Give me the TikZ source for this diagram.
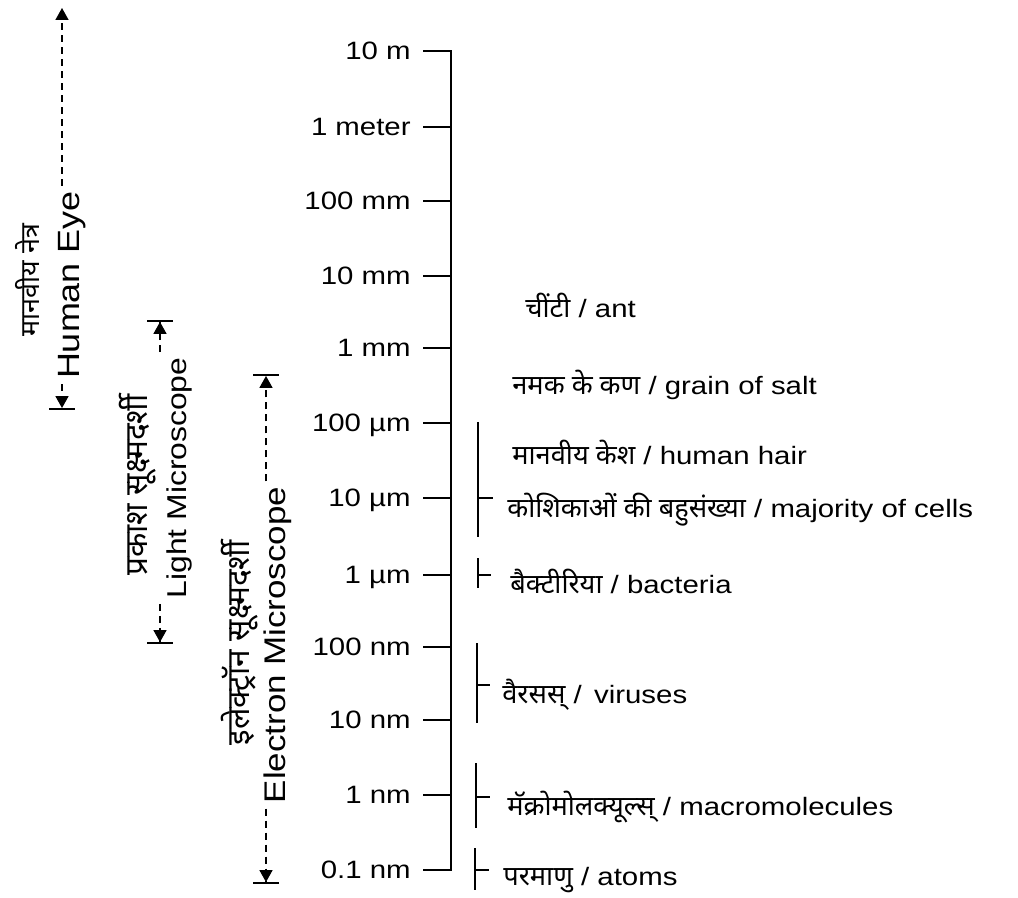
\documentclass[tikz,border=0pt]{standalone}
\usepackage{fontspec}
\setmainfont[FakeStretch=1.17]{Liberation Sans}
\newfontfamily\hindi[Script=Devanagari]{Noto Sans}
\usetikzlibrary{arrows.meta, positioning}

\begin{document}
\begin{tikzpicture}[
                x=0.02cm, y=-0.02cm,
                font=\fontsize{14.3}{17}\selectfont,
                axisline/.style={line width=1.1pt, line join=miter},
                scalelabel/.style={inner xsep=0.24cm, inner ysep=0pt, text height=10pt, text depth=0pt},
                itemlabel/.style={anchor=base west, inner sep=0pt},
                rangelabel/.style={rotate=90, inner sep=0.1cm},
                bracketline/.style={line width=0.9pt},
                rangeline/.style={line width=0.9pt, dash pattern=on 0.14cm off 0.1cm},
                tipup/.style={-{Triangle[length=0.24cm, width=0.26cm]}},
                tipbar/.style={-{Triangle[length=0.24cm, width=0.26cm] Bar[width=0.52cm, line width=1.1pt]}}
            ]
            \useasboundingbox (0,0) rectangle (1018,898);

            % Scale axis
            \coordinate (s1) at (451,51);
            \coordinate (s2) at (451,127);
            \coordinate (s3) at (451,201);
            \coordinate (s4) at (451,276);
            \coordinate (s5) at (451,348);
            \coordinate (s6) at (451,423);
            \coordinate (s7) at (451,498);
            \coordinate (s8) at (451,575);
            \coordinate (s9) at (451,647);
            \coordinate (s10) at (451,720);
            \coordinate (s11) at (451,795);
            \coordinate (s12) at (451,870);

            \node[scalelabel, left=0.56cm of s1] (l1) {10 m};
            \node[scalelabel, left=0.56cm of s2] (l2) {1 meter};
            \node[scalelabel, left=0.56cm of s3] (l3) {100 mm};
            \node[scalelabel, left=0.56cm of s4] (l4) {10 mm};
            \node[scalelabel, left=0.56cm of s5] (l5) {1 mm};
            \node[scalelabel, left=0.56cm of s6] (l6) {100 µm};
            \node[scalelabel, left=0.56cm of s7] (l7) {10 µm};
            \node[scalelabel, left=0.56cm of s8] (l8) {1 µm};
            \node[scalelabel, left=0.56cm of s9] (l9) {100 nm};
            \node[scalelabel, left=0.56cm of s10] (l10) {10 nm};
            \node[scalelabel, left=0.56cm of s11] (l11) {1 nm};
            \node[scalelabel, left=0.56cm of s12] (l12) {0.1 nm};

            \draw[axisline] (l1) -- (s1) -- (s12) -- (l12);
            \draw[axisline] (l2) -- (s2);
            \draw[axisline] (l3) -- (s3);
            \draw[axisline] (l4) -- (s4);
            \draw[axisline] (l5) -- (s5);
            \draw[axisline] (l6) -- (s6);
            \draw[axisline] (l7) -- (s7);
            \draw[axisline] (l8) -- (s8);
            \draw[axisline] (l9) -- (s9);
            \draw[axisline] (l10) -- (s10);
            \draw[axisline] (l11) -- (s11);

            % Objects
            \newcommand{\hi}[1]{{\hindi\fontsize{15.5}{18}\selectfont #1}}
            \node[itemlabel] (ant) at (525,318) {\hi{चींटी} / ant};
            \node[itemlabel] (salt) at (512,395) {\hi{नमक के कण} / grain of salt};
            \node[itemlabel] (hair) at (512,465) {\hi{मानवीय केश} / human hair};
            \node[itemlabel] (cells) at (507,518) {\hi{कोशिकाओं की बहुसंख्या} / majority of cells};
            \node[itemlabel] (bacteria) at (510,593) {\hi{बैक्टीरिया} / bacteria};
            \node[itemlabel] (viruses) at (502,703) {\hi{वैरसस्} /\, viruses};
            \node[itemlabel] (macro) at (507,815) {\hi{मॅक्रोमोलक्यूल्स्} / macromolecules};
            \node[itemlabel] (atoms) at (503,885) {\hi{परमाणु} / atoms};

            % Size brackets
            \coordinate (cells-a) at (478,422);
            \coordinate (cells-b) at (478,537);
            \coordinate (cells-m) at (478,498);
            \coordinate (cells-t) at (493,498);
            \coordinate (bact-a) at (478,558);
            \coordinate (bact-b) at (478,588);
            \coordinate (bact-m) at (478,575);
            \coordinate (bact-t) at (491,575);
            \coordinate (vir-a) at (477,643);
            \coordinate (vir-b) at (477,723);
            \coordinate (vir-m) at (477,685);
            \coordinate (vir-t) at (490,685);
            \coordinate (macro-a) at (476,763);
            \coordinate (macro-b) at (476,828);
            \coordinate (macro-m) at (476,797);
            \coordinate (macro-t) at (490,797);
            \coordinate (atoms-a) at (475,848);
            \coordinate (atoms-b) at (475,890);
            \coordinate (atoms-m) at (475,870);
            \coordinate (atoms-t) at (489,870);

            \draw[bracketline] (cells-a) -- (cells-b) (cells-m) -- (cells-t);
            \draw[bracketline] (bact-a) -- (bact-b) (bact-m) -- (bact-t);
            \draw[bracketline] (vir-a) -- (vir-b) (vir-m) -- (vir-t);
            \draw[bracketline] (macro-a) -- (macro-b) (macro-m) -- (macro-t);
            \draw[bracketline] (atoms-a) -- (atoms-b) (atoms-m) -- (atoms-t);

            % Ranges of the eye and microscopes
            \node[rangelabel, font=\fontsize{17.5}{20}\selectfont] (eye) at (72,285) {Human Eye};
            \node[rangelabel] (eyehi) at (27,280) {\hindi\fontsize{15.3}{18}\selectfont मानवीय नेत्र};
            \node[rangelabel, font=\fontsize{15.5}{18}\selectfont] (light) at (179,478) {Light Microscope};
            \node[rangelabel] (lighthi) at (138,485) {\hindi\fontsize{18}{21}\selectfont प्रकाश सूक्ष्मदर्शी};
            \node[rangelabel, font=\fontsize{17}{20}\selectfont] (elec) at (278,645) {Electron Microscope};
            \node[rangelabel] (elechi) at (240,643) {\hindi\fontsize{18}{21}\selectfont इलेक्ट्रॉन सूक्ष्मदर्शी};

            \coordinate (eye-top) at (62,8);
            \coordinate (eye-bot) at (62,410);
            \coordinate (light-top) at (160,320);
            \coordinate (light-bot) at (160,644);
            \coordinate (elec-top) at (266,374);
            \coordinate (elec-bot) at (266,884);

            \draw[rangeline, tipup] (eye.east -| eye-top) -- (eye-top);
            \draw[rangeline, tipbar] (eye.west -| eye-bot) -- (eye-bot);
            \draw[rangeline, tipbar] (light.east -| light-top) -- (light-top);
            \draw[rangeline, tipbar] (light.west -| light-bot) -- (light-bot);
            \draw[rangeline, tipbar] (elec.east -| elec-top) -- (elec-top);
            \draw[rangeline, tipbar] (elec.west -| elec-bot) -- (elec-bot);
        \end{tikzpicture}
\end{document}
